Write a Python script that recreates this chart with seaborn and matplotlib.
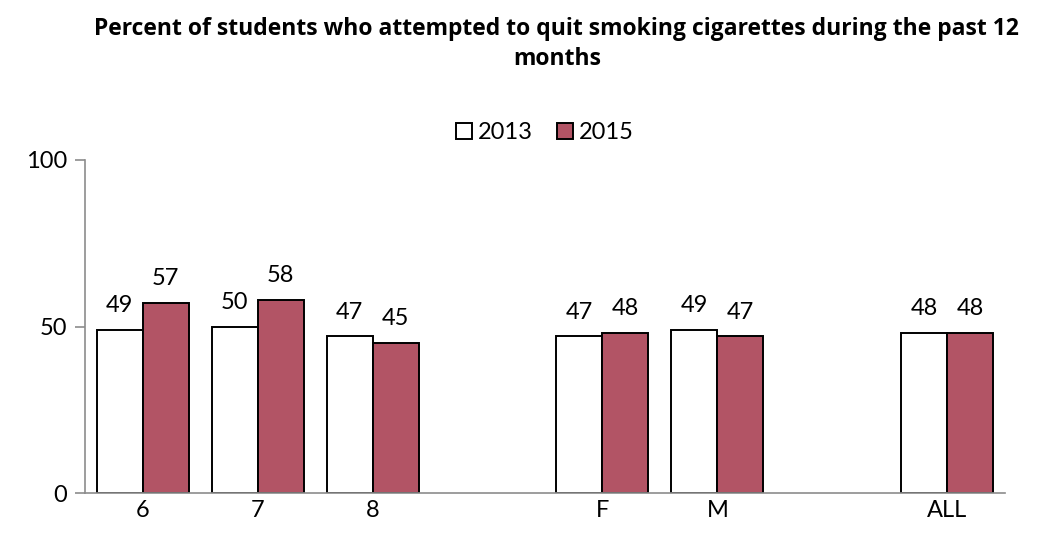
import numpy as np
import pandas as pd
import matplotlib
matplotlib.use("Agg")
import matplotlib.pyplot as plt
import seaborn as sns

# =========================
# Data
# =========================
categories = ["6", "7", "8", " ", "F", "M", "  ", "ALL"]
years = ["2013", "2015"]
values_2013 = [49, 50, 47, np.nan, 47, 49, np.nan, 48]
values_2015 = [57, 58, 45, np.nan, 48, 47, np.nan, 48]

df = pd.DataFrame({
    "group": categories * 2,
    "year": [years[0]] * len(categories) + [years[1]] * len(categories),
    "pct": values_2013 + values_2015,
})

colors = {"2013": "#FFFFFF", "2015": "#B25465"}

sns.set_style("white")
plt.rcParams["font.family"] = ["Lato", "DejaVu Sans"]
plt.rcParams["text.color"] = "black"
plt.rcParams["xtick.labelcolor"] = "black"
plt.rcParams["ytick.labelcolor"] = "black"

fig, ax = plt.subplots(figsize=(10.41, 5.46), dpi=100)
fig.subplots_adjust(left=0.082, right=0.965, top=0.707, bottom=0.097)

sns.barplot(
    data=df,
    x="group",
    y="pct",
    hue="year",
    order=categories,
    hue_order=years,
    palette=colors,
    saturation=1,
    width=0.8,
    edgecolor="black",
    linewidth=1.4,
    ax=ax,
)

# value labels
for cont in ax.containers:
    labels = ["" if np.isnan(v) else f"{v:.0f}" for v in cont.datavalues]
    ax.bar_label(cont, labels=labels, padding=10, fontsize=17, color="black")

# =========================
# Axes styling
# =========================
ax.set_ylim(0, 100)
ax.set_xlim(-0.5, len(categories) - 0.5)
ax.set_yticks([0, 50, 100])
ax.set_xlabel("")
ax.set_ylabel("")

for side in ["top", "right"]:
    ax.spines[side].set_visible(False)
for side in ["left", "bottom"]:
    ax.spines[side].set_color("#8C8C8C")
    ax.spines[side].set_linewidth(1.2)

ax.set_xticks(np.arange(-0.5, len(categories), 1), minor=True)
ax.tick_params(axis="x", which="major", length=0, labelsize=17, pad=5,
               labelcolor="black")
ax.tick_params(axis="x", which="minor", length=7, color="#8C8C8C", width=1.2, direction="out")
ax.tick_params(axis="y", length=7, color="#8C8C8C", width=1.2, direction="out",
               labelsize=17, left=True, pad=6, labelcolor="black")

# =========================
# Legend
# =========================
handles, labs = ax.get_legend_handles_labels()
ax.legend(
    handles, labs,
    loc="lower center",
    bbox_to_anchor=(0.5, 1.0),
    ncol=2,
    frameon=False,
    fontsize=17,
    handlelength=0.7,
    handleheight=0.7,
    handletextpad=0.25,
    columnspacing=1.0,
    borderaxespad=0.3,
    labelcolor="black",
)

fig.suptitle(
    "Percent of students who attempted to quit smoking cigarettes during the past 12\nmonths",
    fontsize=16.5,
    fontweight="bold",
    family=["Open Sans", "DejaVu Sans"],
    color="black",
    x=0.535,
    y=0.968,
    linespacing=1.3,
)

plt.savefig("out.png", dpi=100)
